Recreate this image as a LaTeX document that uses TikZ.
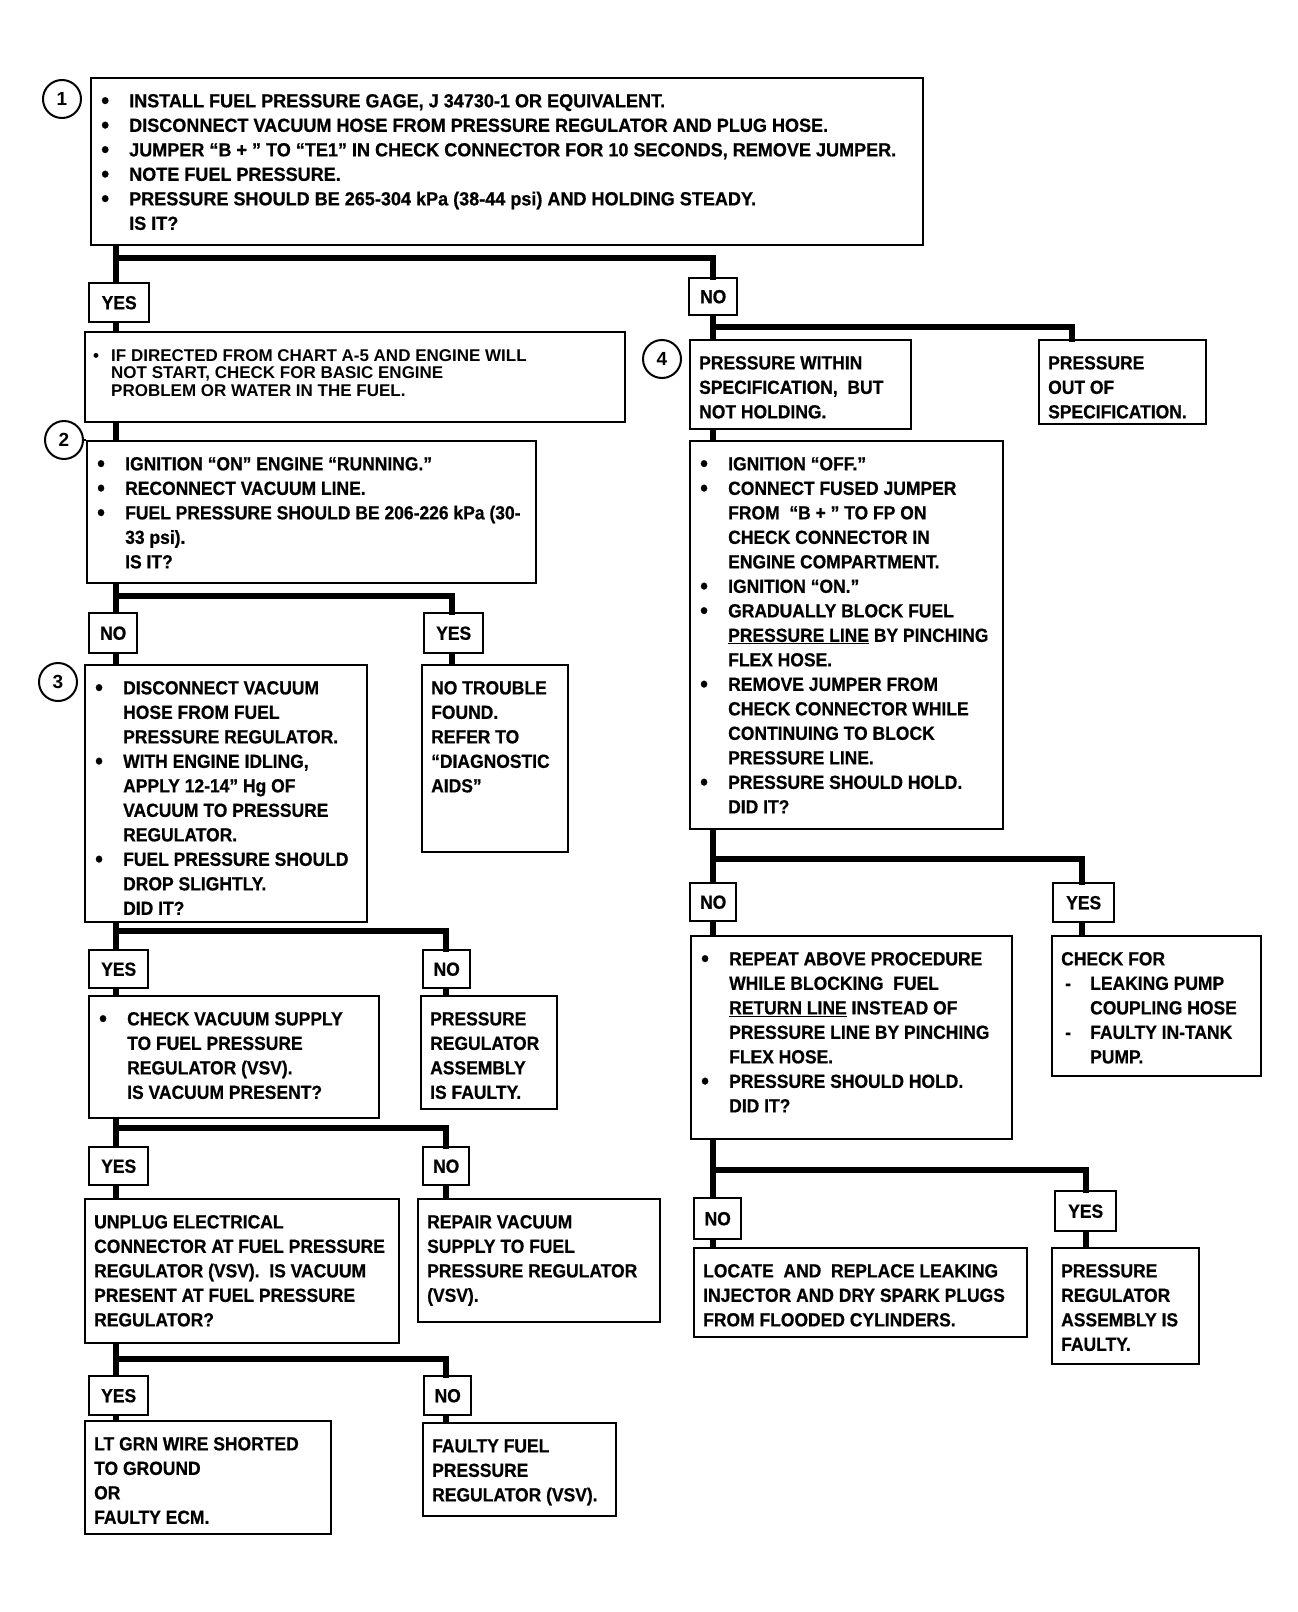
\documentclass[tikz,border=0pt]{standalone}
\usepackage{fontspec}
\setmainfont{Liberation Sans}
\newfontfamily\condfam{Liberation Sans}[FakeStretch=0.92, BoldFeatures={FakeBold=0.6}]
\newfontfamily\widefam{Liberation Sans}[FakeStretch=0.95, BoldFeatures={FakeBold=0.6}]
\newcommand{\fntA}{\condfam\fontsize{19}{24.5}\selectfont\bfseries}
\newcommand{\fntW}{\widefam\fontsize{19}{24.5}\selectfont\bfseries}
\newcommand{\fntB}{\fontsize{17}{17.5}\selectfont\bfseries}
\newcommand{\fntN}{\fontsize{19}{20}\selectfont\bfseries}
\newcommand{\blist}[2][27pt]{\begin{tabular}{@{}p{#1}@{}l@{}}#2\end{tabular}}
\newcommand{\plist}[1]{\begin{tabular}{@{}l@{}}#1\end{tabular}}
\newcommand{\bul}{\hspace*{-1pt}\raisebox{-1.2pt}{\fontsize{24}{0}\selectfont\textbullet}}
\newcommand{\sbul}{\textbullet}
\tikzset{
  box/.style={draw, line width=2.4pt, anchor=north west, inner sep=0pt},
  tagbox/.style={draw, line width=2.4pt, anchor=north west, inner sep=0pt, font=\fntA},
  wire/.style={line width=5.5pt},
  branch/.style={line width=5.5pt, line cap=rect},
  numc/.style={circle, draw, line width=2pt, minimum size=38pt, inner sep=0pt, font=\fntN},
  lbl/.style={anchor=north west, inner sep=0pt, font=\fntA, xshift=12pt, yshift=-13pt},
  plbl/.style={xshift=-2pt},
}
% \bx[extra label opts]{name}{x1}{y1}{x2}{y2}{content}
\newcommand{\bx}[7][]{\node[box, minimum width={#5-#3}, minimum height={#6-#4},
  label={[lbl,#1]north west:{#7}}] (#2) at (#3,#4) {};}
% \tg{name}{x1}{y1}{x2}{y2}{text}
\newcommand{\tg}[6]{\node[tagbox, minimum width={#4-#2}, minimum height={#5-#3}] (#1) at (#2,#3) {#6};}
\begin{document}
\begin{tikzpicture}[x=1pt, y=-1pt]
\path[use as bounding box, fill=white] (0,0) rectangle (1298,1612);

% ---------- step 1 ----------
\node[numc] (c1) at (62,99) {1};
\bx[font=\fntW]{b1}{90}{77}{922}{244}{\blist{%
\bul & INSTALL FUEL PRESSURE GAGE, J 34730-1 OR EQUIVALENT.\\
\bul & DISCONNECT VACUUM HOSE FROM PRESSURE REGULATOR AND PLUG HOSE.\\
\bul & JUMPER “B + ” TO “TE1” IN CHECK CONNECTOR FOR 10 SECONDS, REMOVE JUMPER.\\
\bul & NOTE FUEL PRESSURE.\\
\bul & PRESSURE SHOULD BE 265-304 kPa (38-44 psi) AND HOLDING STEADY.\\
 & IS IT?}}

\tg{y1}{88}{282}{148}{321}{YES}
\tg{n1}{688}{277}{736}{314}{NO}

% ---------- left column ----------
\bx[font=\fntB, xshift=-3pt, yshift=-5pt]{ifd}{84}{331}{624}{421}{\blist[18pt]{%
\sbul & IF DIRECTED FROM CHART A-5 AND ENGINE WILL\\
 & NOT START, CHECK FOR BASIC ENGINE\\
 & PROBLEM OR WATER IN THE FUEL.}}

\node[numc] (c2) at (64,440) {2};
\bx{b2}{86}{440}{535}{582}{\blist{%
\bul & IGNITION “ON” ENGINE “RUNNING.”\\
\bul & RECONNECT VACUUM LINE.\\
\bul & FUEL PRESSURE SHOULD BE 206-226 kPa (30-\\
 & 33 psi).\\
 & IS IT?}}

\tg{n2}{88}{612}{136}{652}{NO}
\tg{y2}{423}{612}{482}{652}{YES}

\node[numc] (c3) at (58,682) {3};
\bx{b3}{84}{664}{366}{921}{\blist{%
\bul & DISCONNECT VACUUM\\
 & HOSE FROM FUEL\\
 & PRESSURE REGULATOR.\\
\bul & WITH ENGINE IDLING,\\
 & APPLY 12-14” Hg OF\\
 & VACUUM TO PRESSURE\\
 & REGULATOR.\\
\bul & FUEL PRESSURE SHOULD\\
 & DROP SLIGHTLY.\\
 & DID IT?}}
\bx[plbl]{nt}{421}{664}{567}{851}{\plist{%
NO TROUBLE\\ FOUND.\\ REFER TO\\ “DIAGNOSTIC\\ AIDS”}}

\tg{y3}{88}{949}{147}{987}{YES}
\tg{n3}{422}{949}{469}{987}{NO}

\bx{cv}{88}{995}{378}{1117}{\blist{%
\bul & CHECK VACUUM SUPPLY\\
 & TO FUEL PRESSURE\\
 & REGULATOR (VSV).\\
 & IS VACUUM PRESENT?}}
\bx[plbl]{pa1}{420}{995}{556}{1108}{\plist{%
PRESSURE\\ REGULATOR\\ ASSEMBLY\\ IS FAULTY.}}

\tg{y4}{88}{1146}{147}{1184}{YES}
\tg{n4}{422}{1146}{468}{1184}{NO}

\bx[plbl]{up}{84}{1198}{398}{1342}{\plist{%
UNPLUG ELECTRICAL\\
CONNECTOR AT FUEL PRESSURE\\
REGULATOR (VSV).\ \ IS VACUUM\\
PRESENT AT FUEL PRESSURE\\
REGULATOR?}}
\bx[plbl]{rp}{417}{1198}{659}{1321}{\plist{%
REPAIR VACUUM\\ SUPPLY TO FUEL\\ PRESSURE REGULATOR\\ (VSV).}}

\tg{y5}{88}{1375}{147}{1414}{YES}
\tg{n5}{423}{1375}{470}{1414}{NO}

\bx[plbl]{lt}{84}{1420}{330}{1533}{\plist{%
LT GRN WIRE SHORTED\\ TO GROUND\\ OR\\ FAULTY ECM.}}
\bx[plbl]{ff}{422}{1422}{615}{1515}{\plist{%
FAULTY FUEL\\ PRESSURE\\ REGULATOR (VSV).}}

% ---------- right column ----------
\node[numc] (c4) at (662,359) {4};
\bx[plbl]{pw}{689}{339}{910}{428}{\plist{%
PRESSURE WITHIN\\ SPECIFICATION,\ \ BUT\\ NOT HOLDING.}}
\bx[plbl]{po}{1038}{339}{1205}{423}{\plist{%
PRESSURE\\ OUT OF\\ SPECIFICATION.}}

\bx{big}{689}{440}{1002}{828}{\blist{%
\bul & IGNITION “OFF.”\\
\bul & CONNECT FUSED JUMPER\\
 & FROM\ \ “B + ” TO FP ON\\
 & CHECK CONNECTOR IN\\
 & ENGINE COMPARTMENT.\\
\bul & IGNITION “ON.”\\
\bul & GRADUALLY BLOCK FUEL\\
 & \underline{PRESSURE LINE} BY PINCHING\\
 & FLEX HOSE.\\
\bul & REMOVE JUMPER FROM\\
 & CHECK CONNECTOR WHILE\\
 & CONTINUING TO BLOCK\\
 & PRESSURE LINE.\\
\bul & PRESSURE SHOULD HOLD.\\
 & DID IT?}}

\tg{nr2}{689}{882}{735}{920}{NO}
\tg{yr2}{1052}{882}{1113}{921}{YES}

\bx{rep}{690}{935}{1011}{1138}{\blist{%
\bul & REPEAT ABOVE PROCEDURE\\
 & WHILE BLOCKING\ \ FUEL\\
 & \underline{RETURN LINE} INSTEAD OF\\
 & PRESSURE LINE BY PINCHING\\
 & FLEX HOSE.\\
\bul & PRESSURE SHOULD HOLD.\\
 & DID IT?}}
\bx[plbl]{cf}{1051}{935}{1260}{1075}{\blist[29pt]{%
\multicolumn{2}{@{}l@{}}{CHECK FOR}\\
\hspace*{4pt}- & LEAKING PUMP\\
 & COUPLING HOSE\\
\hspace*{4pt}- & FAULTY IN-TANK\\
 & PUMP.}}

\tg{nr3}{693}{1197}{740}{1238}{NO}
\tg{yr3}{1054}{1190}{1115}{1230}{YES}

\bx[plbl]{loc}{693}{1247}{1026}{1336}{\plist{%
LOCATE\ \ AND\ \ REPLACE LEAKING\\
INJECTOR AND DRY SPARK PLUGS\\
FROM FLOODED CYLINDERS.}}
\bx[plbl]{pa2}{1051}{1247}{1198}{1363}{\plist{%
PRESSURE\\ REGULATOR\\ ASSEMBLY IS\\ FAULTY.}}

% ---------- connectors ----------
\coordinate (tl) at (116,0);
\coordinate (tr) at (713,0);
\draw[line width=2pt] (c2.east) -- (b2.north west);

\coordinate (j1) at (116,258);
\draw[wire] (b1.south -| tl) -- (y1.north -| tl);
\draw[branch] (j1) -| (n1.north -| tr);
\draw[wire] (y1.south -| tl) -- (ifd.north -| tl);
\draw[wire] (ifd.south -| tl) -- (b2.north -| tl);

\coordinate (j3) at (116,596); \coordinate (k3) at (452,596);
\draw[wire] (b2.south -| tl) -- (n2.north -| tl);
\draw[branch] (j3) -- (k3) -- (y2.north -| k3);
\draw[wire] (n2.south -| tl) -- (b3.north -| tl);
\draw[wire] (y2.south -| k3) -- (nt.north -| k3);

\coordinate (j4) at (116,931); \coordinate (k4) at (446,931);
\draw[wire] (b3.south -| tl) -- (y3.north -| tl);
\draw[branch] (j4) -- (k4) -- (n3.north -| k4);
\draw[wire] (y3.south -| tl) -- (cv.north -| tl);
\draw[wire] (n3.south -| k4) -- (pa1.north -| k4);

\coordinate (j5) at (116,1128); \coordinate (k5) at (446,1128);
\draw[wire] (cv.south -| tl) -- (y4.north -| tl);
\draw[branch] (j5) -- (k5) -- (n4.north -| k5);
\draw[wire] (y4.south -| tl) -- (up.north -| tl);
\draw[wire] (n4.south -| k5) -- (rp.north -| k5);

\coordinate (j6) at (116,1359); \coordinate (k6) at (446,1359);
\draw[wire] (up.south -| tl) -- (y5.north -| tl);
\draw[branch] (j6) -- (k6) -- (n5.north -| k6);
\draw[wire] (y5.south -| tl) -- (lt.north -| tl);
\draw[wire] (n5.south -| k6) -- (ff.north -| k6);

\coordinate (j2) at (713,327); \coordinate (k2) at (1072,327);
\draw[wire] (n1.south -| tr) -- (pw.north -| tr);
\draw[branch] (j2) -- (k2) -- (po.north -| k2);
\draw[wire] (pw.south -| tr) -- (big.north -| tr);

\coordinate (j7) at (713,859); \coordinate (k7) at (1082,859);
\draw[wire] (big.south -| tr) -- (nr2.north -| tr);
\draw[branch] (j7) -- (k7) -- (yr2.north -| k7);
\draw[wire] (nr2.south -| tr) -- (rep.north -| tr);
\draw[wire] (yr2.south -| k7) -- (cf.north -| k7);

\coordinate (j8) at (713,1170); \coordinate (k8) at (1086,1170);
\draw[wire] (rep.south -| tr) -- (nr3.north -| tr);
\draw[branch] (j8) -- (k8) -- (yr3.north -| k8);
\draw[wire] (nr3.south -| tr) -- (loc.north -| tr);
\draw[wire] (yr3.south -| k8) -- (pa2.north -| k8);
\end{tikzpicture}
\end{document}
